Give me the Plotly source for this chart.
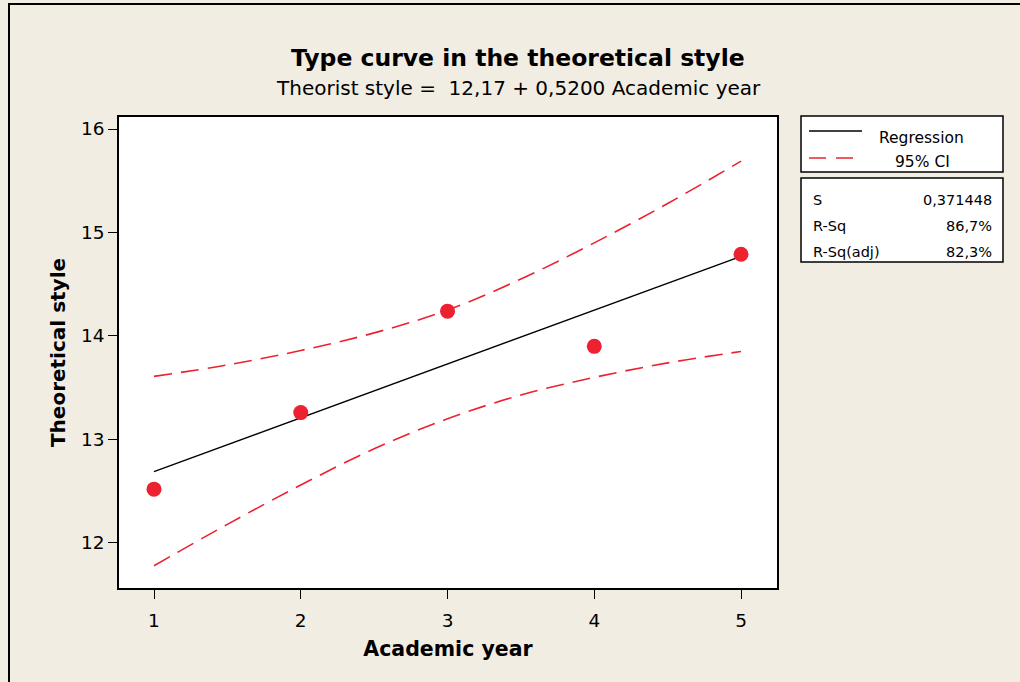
import plotly.graph_objects as go

# ---- data ----
academic_year = [1, 2, 3, 4, 5]
theoretical_style = [12.52, 13.26, 14.24, 13.90, 14.79]

fit_x = [1, 5]
fit_y = [12.69, 14.77]

ci_x = [1, 1.5, 2, 2.5, 3, 3.5, 4, 4.5, 5]
ci_upper = [13.61, 13.72, 13.86, 14.03, 14.25, 14.55, 14.90, 15.28, 15.69]
ci_lower = [11.78, 12.18, 12.56, 12.91, 13.20, 13.43, 13.60, 13.74, 13.85]

x_ticks = [1, 2, 3, 4, 5]
y_ticks = [12, 13, 14, 15, 16]

stat_labels = ["S", "R-Sq", "R-Sq(adj)"]
stat_values = ["0,371448", "86,7%", "82,3%"]

# ---- layout geometry (pixels) ----
W, H = 1020, 682
L, R, T, B = 119, 777, 117, 588
BG = "#F2EDE3"
RED = "#EC2230"
FONT = "DejaVu Sans"


def px(x):
    return (x - L) / (R - L)


def py(y):
    return (B - y) / (B - T)


fig = go.Figure()

for ci in (ci_upper, ci_lower):
    fig.add_trace(go.Scatter(x=ci_x, y=ci, mode="lines",
                             line=dict(color=RED, width=1.6, dash="18px,9px", shape="spline"),
                             showlegend=False, hoverinfo="skip"))
fig.add_trace(go.Scatter(x=fit_x, y=fit_y, mode="lines", line=dict(color="black", width=1.4),
                         showlegend=False))
fig.add_trace(go.Scatter(x=academic_year, y=theoretical_style, mode="markers",
                         marker=dict(color=RED, size=15, line=dict(width=0)), showlegend=False))

shapes = []
# outer frame (top and left)
shapes.append(dict(type="rect", xref="paper", yref="paper", x0=px(9), x1=px(1030), y0=py(4), y1=py(700),
                   line=dict(color="black", width=2), layer="below"))
# legend box
shapes.append(dict(type="rect", xref="paper", yref="paper", x0=px(801), x1=px(1003), y0=py(116), y1=py(172),
                   line=dict(color="black", width=1.5), fillcolor="white"))
shapes.append(dict(type="line", xref="paper", yref="paper", x0=px(809), x1=px(862), y0=py(131), y1=py(131),
                   line=dict(color="black", width=1.4)))
shapes.append(dict(type="line", xref="paper", yref="paper", x0=px(809), x1=px(858), y0=py(158), y1=py(158),
                   line=dict(color=RED, width=1.6, dash="17px,10px")))
# stats box
shapes.append(dict(type="rect", xref="paper", yref="paper", x0=px(801), x1=px(1003), y0=py(178), y1=py(262),
                   line=dict(color="black", width=1.5), fillcolor="white"))

annotations = []
annotations.append(dict(xref="paper", yref="paper", x=px(877), y=py(138), text="Regression", showarrow=False,
                        xanchor="left", yanchor="middle", font=dict(family=FONT, size=15.5, color="black")))
annotations.append(dict(xref="paper", yref="paper", x=px(893), y=py(162), text="95% CI", showarrow=False,
                        xanchor="left", yanchor="middle", font=dict(family=FONT, size=15.5, color="black")))
for i, (lab, val) in enumerate(zip(stat_labels, stat_values)):
    yy = 200 + 26 * i
    annotations.append(dict(xref="paper", yref="paper", x=px(811), y=py(yy), text=lab, showarrow=False,
                            xanchor="left", yanchor="middle", font=dict(family=FONT, size=14.5, color="black")))
    annotations.append(dict(xref="paper", yref="paper", x=px(994), y=py(yy), text=val, showarrow=False,
                            xanchor="right", yanchor="middle", font=dict(family=FONT, size=14.5, color="black")))
# titles
annotations.append(dict(xref="paper", yref="paper", x=px(518), y=py(58), text="<b>Type curve in the theoretical style</b>",
                        showarrow=False, xanchor="center", yanchor="middle", font=dict(family=FONT, size=23.5, color="black")))
annotations.append(dict(xref="paper", yref="paper", x=px(518), y=py(88),
                        text="Theorist style =\u00a0 12,17 + 0,5200 Academic year",
                        showarrow=False, xanchor="center", yanchor="middle", font=dict(family=FONT, size=20, color="black")))

fig.update_layout(
    width=W, height=H, autosize=False,
    margin=dict(l=L, r=W - R, t=T, b=H - B),
    paper_bgcolor=BG, plot_bgcolor="white",
    shapes=shapes, annotations=annotations,
    showlegend=False,
    xaxis=dict(range=[0.7615, 5.245], tickvals=x_ticks, ticktext=[str(v) for v in x_ticks],
               showgrid=False, zeroline=False, showline=True, linecolor="black", linewidth=1.5, mirror=True,
               ticks="outside", ticklen=9, tickcolor="black", tickwidth=1.2, ticklabelstandoff=6,
               tickfont=dict(family=FONT, size=18.5, color="black"),
               title=dict(text="<b>Academic year</b>", font=dict(family=FONT, size=20.5, color="black"), standoff=12)),
    yaxis=dict(range=[11.565, 16.116], tickvals=y_ticks, ticktext=[str(v) for v in y_ticks],
               showgrid=False, zeroline=False, showline=True, linecolor="black", linewidth=1.5, mirror=True,
               ticks="outside", ticklen=9, tickcolor="black", tickwidth=1.2,
               tickfont=dict(family=FONT, size=18.5, color="black"),
               title=dict(text="<b>Theoretical style</b>", font=dict(family=FONT, size=20, color="black"), standoff=10)),
)

fig.write_html("out.html", config={"displayModeBar": False},
               post_script="document.body.style.margin='0';")
